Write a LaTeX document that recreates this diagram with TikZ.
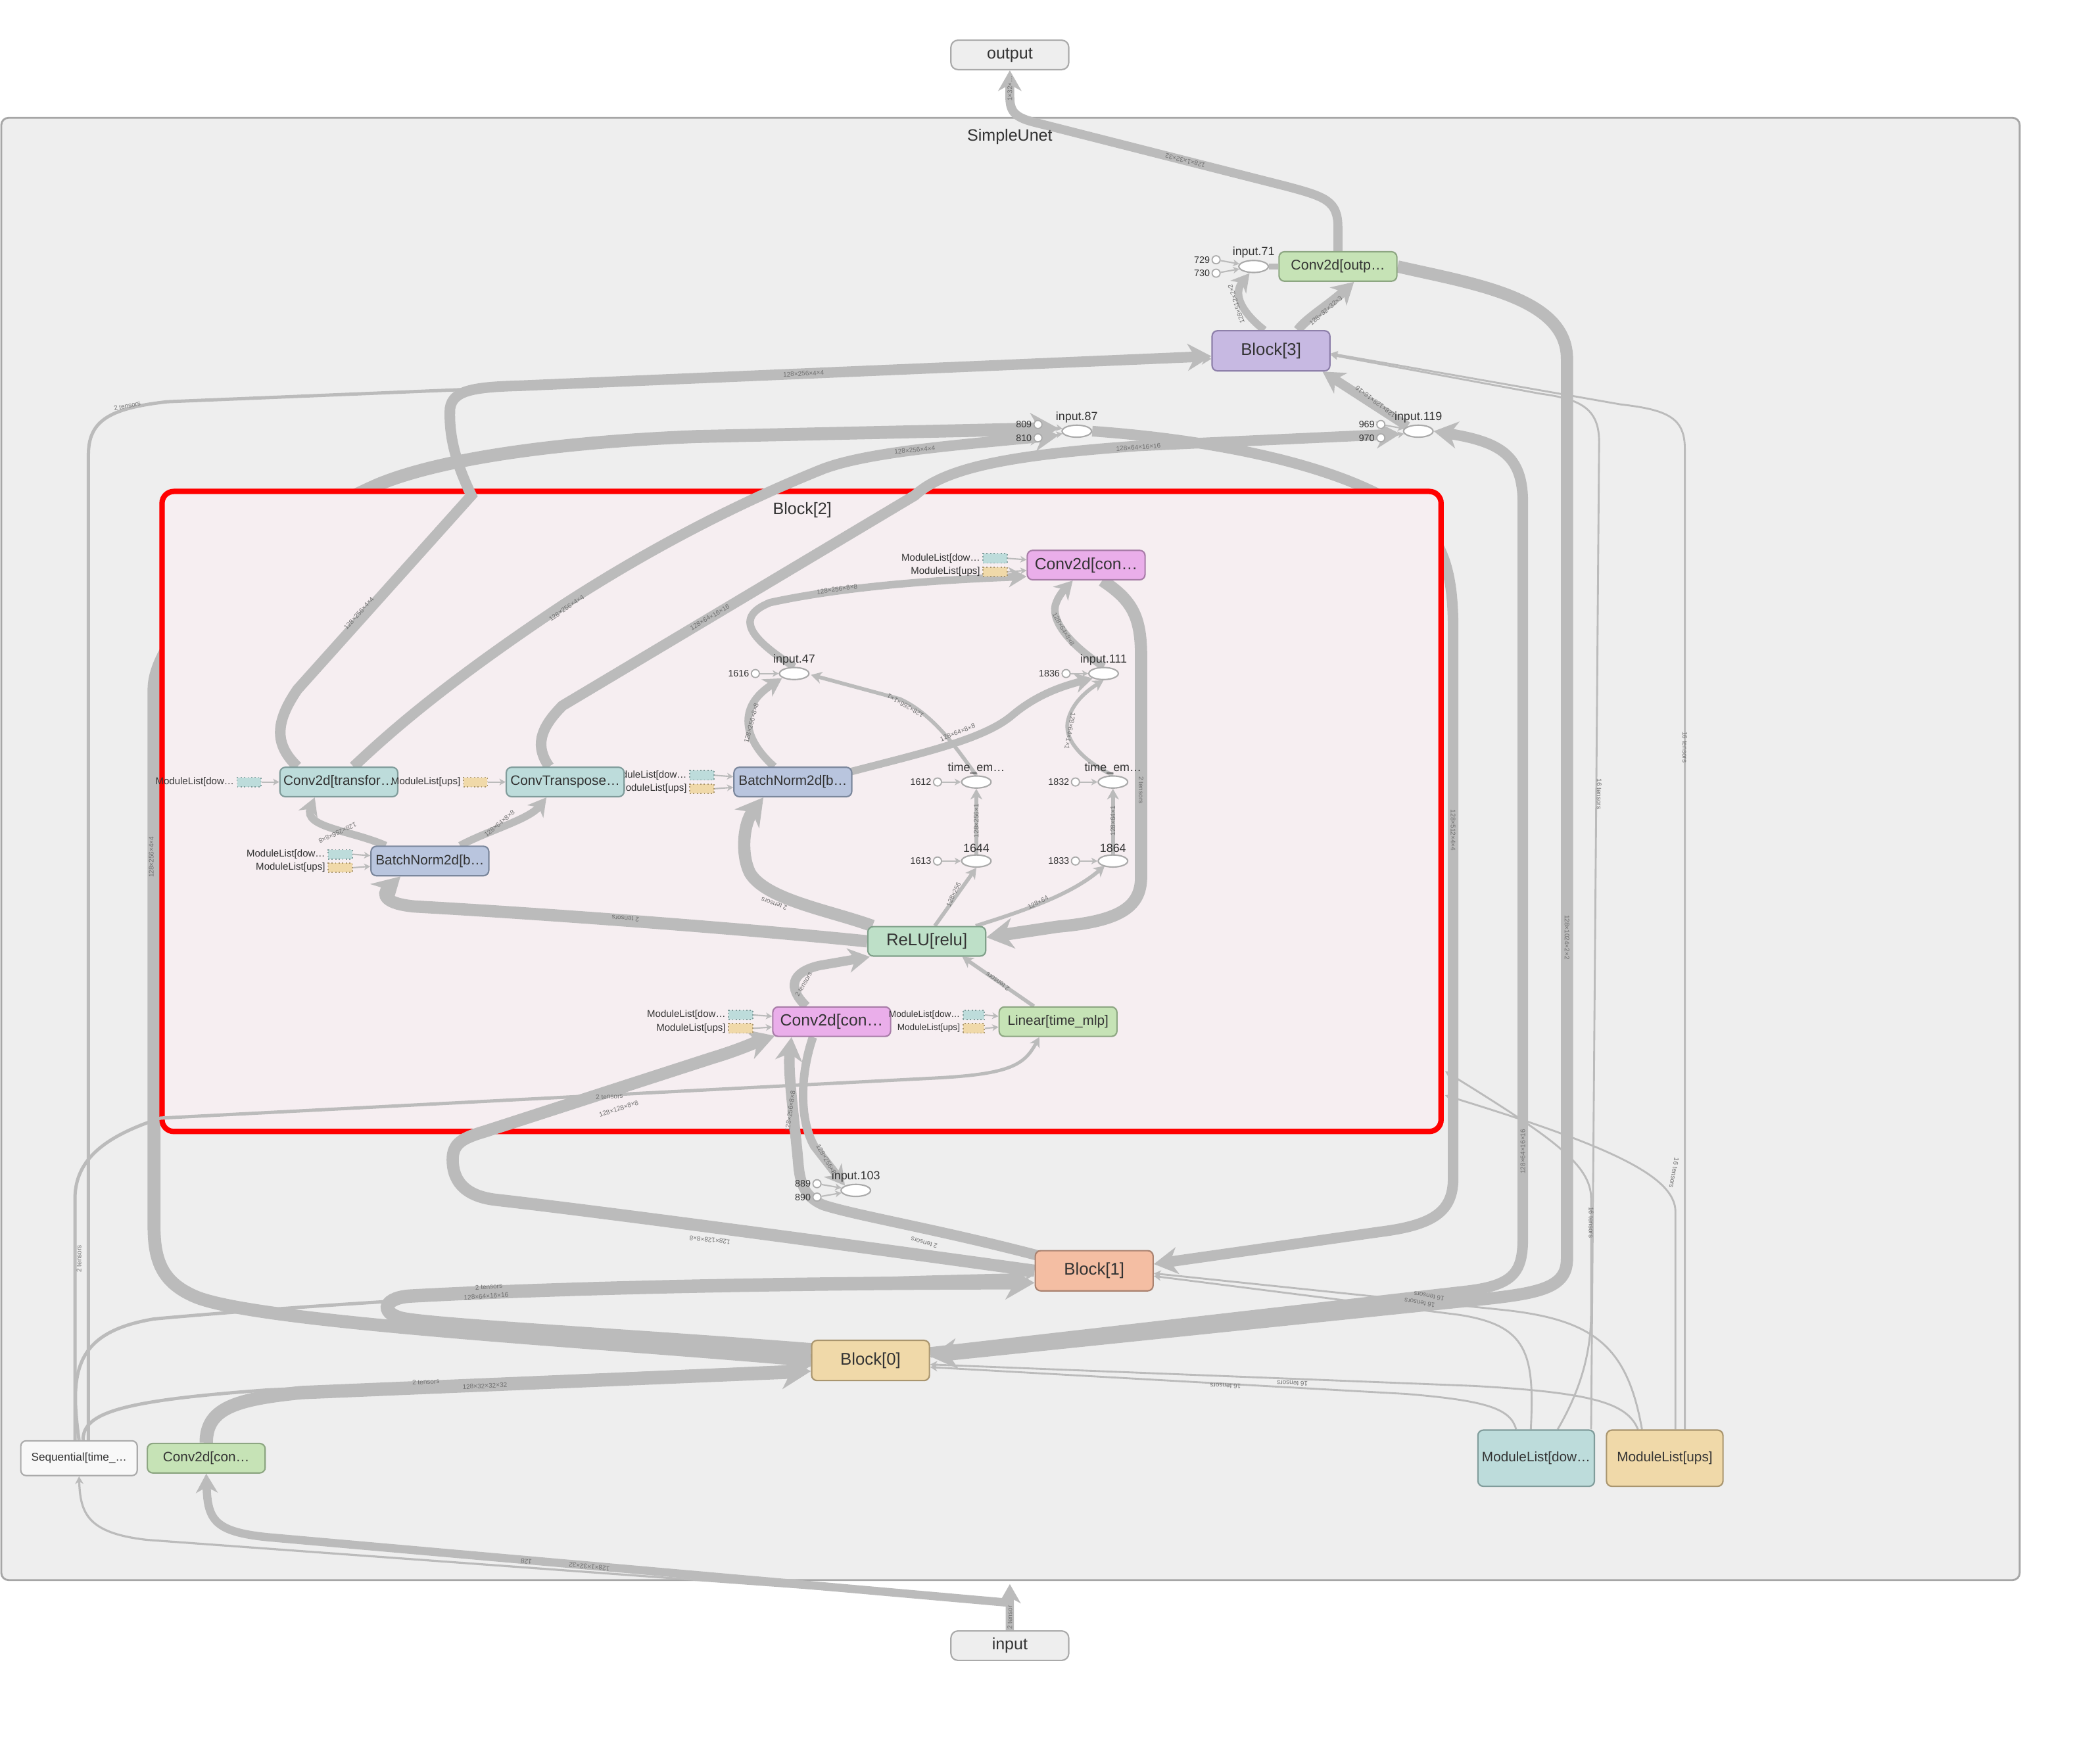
\documentclass[tikz,border=0pt]{standalone}
\usepackage{fontspec}
\setmainfont{Liberation Sans}
\usetikzlibrary{arrows.meta,shapes.geometric,calc}

\pgfdeclarelayer{frame}
\pgfdeclarelayer{under}
\pgfdeclarelayer{box}
\pgfdeclarelayer{edges}
\pgfsetlayers{frame,under,box,edges,main}

\definecolor{groupbg}{HTML}{EEEEEE}
\definecolor{frameline}{HTML}{A6A6A6}
\definecolor{blockpink}{HTML}{F6EEF1}
\definecolor{edgegray}{HTML}{BBBBBB}
\definecolor{txt}{HTML}{333333}
\definecolor{elabgray}{HTML}{707070}
\definecolor{nodeborder}{HTML}{AAAAAA}
\definecolor{purplefill}{HTML}{C7B9E2}
\definecolor{purpleline}{HTML}{8E80AA}
\definecolor{greenfill}{HTML}{C6E3B6}
\definecolor{greenline}{HTML}{8DA682}
\definecolor{pinkfill}{HTML}{EAAEEA}
\definecolor{pinkline}{HTML}{A87CA8}
\definecolor{tealfill}{HTML}{BDDCDB}
\definecolor{tealline}{HTML}{809C9B}
\definecolor{bluefill}{HTML}{B9C5DE}
\definecolor{blueline}{HTML}{7B879C}
\definecolor{mintfill}{HTML}{BEE0C8}
\definecolor{mintline}{HTML}{80A08A}
\definecolor{salmonfill}{HTML}{F4BEA3}
\definecolor{salmonline}{HTML}{A98270}
\definecolor{tanfill}{HTML}{F0D9A9}
\definecolor{tanline}{HTML}{A9956E}

\tikzset{
  op/.style={draw, rounded corners=2.3pt, line width=0.6pt, minimum width=1.76cm,
    minimum height=0.44cm, inner sep=0.5pt, text=txt, font=\fontsize{5.8}{6}\selectfont},
  blk/.style={op, minimum height=0.6cm, font=\fontsize{7.2}{8}\selectfont},
  bigop/.style={op, font=\fontsize{6.9}{7}\selectfont},
  io/.style={op, fill=groupbg, draw=nodeborder, rounded corners=3pt, font=\fontsize{7}{8}\selectfont},
  bigtxt/.style={text=txt, inner sep=0pt, font=\fontsize{7}{8}\selectfont},
  tensor/.style={ellipse, draw=nodeborder, fill=white, line width=0.6pt, minimum width=0.44cm,
    minimum height=0.18cm, inner sep=0pt, label distance=0.3pt},
  const/.style={circle, draw=nodeborder, fill=white, line width=0.5pt, minimum size=0.12cm,
    inner sep=0pt, label distance=0.4pt},
  lab/.style={font=\fontsize{5}{5}\selectfont, text=txt, inner sep=0.5pt},
  clab/.style={font=\fontsize{4}{4}\selectfont, text=txt, inner sep=0.5pt},
  mlab/.style={font=\fontsize{4.2}{4}\selectfont, text=txt, inner sep=0.5pt, anchor=east},
  elab/.style={font=\fontsize{2.8}{3}\selectfont, text=elabgray, inner sep=0pt},
  flow/.style={draw=edgegray, -{Stealth[length=1.5pt 1.9, width=1.5pt 2.2, inset=0.4pt 0.6]}},
  wire/.style={draw=edgegray},
  dotteal/.style={draw=tealline, fill=tealfill, densely dotted, line width=0.5pt,
    minimum width=0.36cm, minimum height=0.14cm, inner sep=0pt},
  dottan/.style={draw=tanline, fill=tanfill, densely dotted, line width=0.5pt,
    minimum width=0.36cm, minimum height=0.14cm, inner sep=0pt},
  fillpurple/.style={fill=purplefill, draw=purpleline},
  fillgreen/.style={fill=greenfill, draw=greenline},
  fillpink/.style={fill=pinkfill, draw=pinkline},
  fillteal/.style={fill=tealfill, draw=tealline},
  fillblue/.style={fill=bluefill, draw=blueline},
  fillmint/.style={fill=mintfill, draw=mintline},
  fillsalmon/.style={fill=salmonfill, draw=salmonline},
  filltan/.style={fill=tanfill, draw=tanline},
}

\begin{document}
\begin{tikzpicture}[x=0.02cm, y=-0.02cm]

% frames
\begin{pgfonlayer}{frame}
  \fill[white] (0,0) rectangle (1568,1299);
  \draw[draw=frameline, fill=groupbg, line width=0.8pt, rounded corners=3pt] (1,88) rectangle (1508,1180);
\end{pgfonlayer}
\useasboundingbox (0,0) rectangle (1568,1299);
\begin{pgfonlayer}{box}
  \draw[draw=red, fill=blockpink, line width=2.3pt, rounded corners=5pt] (121,367) rectangle (1076,845);
\end{pgfonlayer}
\coordinate (b2r1) at (1079,800);
\coordinate (b2r2) at (1079,818);

% group titles and graph ends
\node[bigtxt] (simpleunet) at (754,102) {SimpleUnet};
\node[bigtxt] (block2) at (599,381) {Block[2]};
\node[io] (output) at (754,41) {output};
\node[io] (input) at (754,1229) {input};

% top of SimpleUnet
\node[op, fillgreen, font=\fontsize{6}{6}\selectfont] (co) at (999,199) {Conv2d[outp…};
\node[tensor, label={[lab]above:input.71}] (i71) at (936,199) {};
\node[const, label={[clab]left:729}] (c729) at (908,194) {};
\node[const, label={[clab]left:730}] (c730) at (908,204) {};
\node[blk, fillpurple] (b3) at (949,262) {Block[3]};
\node[tensor, label={[lab]above:input.87}] (i87) at (804,322) {};
\node[const, label={[clab]left:809}] (c809) at (775,317) {};
\node[const, label={[clab]left:810}] (c810) at (775,327) {};
\node[tensor, label={[lab]above:input.119}] (i119) at (1059,322) {};
\node[const, label={[clab]left:969}] (c969) at (1031,317) {};
\node[const, label={[clab]left:970}] (c970) at (1031,327) {};

% inside Block[2]
\node[mlab] at (733,417) {ModuleList[dow…};
\node[mlab] at (733,427) {ModuleList[ups]};
\node[dotteal] (dcu1) at (743,417) {};
\node[dottan] (dcu2) at (743,427) {};
\node[bigop, fillpink] (cu) at (811,422) {Conv2d[con…};

\node[tensor, label={[lab]above:input.47}] (i47) at (593,503) {};
\node[const, label={[clab]left:1616}] (c1616) at (564,503) {};
\node[tensor, label={[lab]above:input.111}] (i111) at (824,503) {};
\node[const, label={[clab]left:1836}] (c1836) at (796,503) {};
\node[tensor, label={[lab]above:time\_em…}] (te1) at (729,584) {};
\node[const, label={[clab]left:1612}] (c1612) at (700,584) {};
\node[tensor, label={[lab]above:time\_em…}] (te2) at (831,584) {};
\node[const, label={[clab]left:1832}] (c1832) at (803,584) {};
\node[tensor, label={[lab]above:1644}] (n1644) at (729,643) {};
\node[const, label={[clab]left:1613}] (c1613) at (700,643) {};
\node[tensor, label={[lab]above:1864}] (n1864) at (831,643) {};
\node[const, label={[clab]left:1833}] (c1833) at (803,643) {};

\node[mlab] at (514,579) {ModuleList[dow…};
\node[mlab] at (514,589) {ModuleList[ups]};
\node[dotteal] (dbn1a) at (524,579) {};
\node[dottan] (dbn1b) at (524,589) {};
\node[mlab] at (176,584) {ModuleList[dow…};
\node[dotteal] (dct) at (186,584) {};
\node[op, fillteal] (ct) at (253,584) {Conv2d[transfor…};
\node[mlab] at (345,584) {ModuleList[ups]};
\node[dottan] (dtr) at (355,584) {};
\node[op, fillteal] (tr) at (422,584) {ConvTranspose…};
\node[op, fillblue] (bn1) at (592,584) {BatchNorm2d[b…};

\node[mlab] at (244,638) {ModuleList[dow…};
\node[mlab] at (244,648) {ModuleList[ups]};
\node[dotteal] (dbn2a) at (254,638) {};
\node[dottan] (dbn2b) at (254,648) {};
\node[op, fillblue] (bn2) at (321,643) {BatchNorm2d[b…};

\node[op, fillmint, font=\fontsize{7.2}{8}\selectfont] (relu) at (692,703) {ReLU[relu]};

\node[mlab] at (543,758) {ModuleList[dow…};
\node[mlab] at (543,768) {ModuleList[ups]};
\node[dotteal] (dcla) at (553,758) {};
\node[dottan] (dclb) at (553,768) {};
\node[bigop, fillpink] (cl) at (621,763) {Conv2d[con…};
\node[mlab, font=\fontsize{3.8}{4}\selectfont] at (718,758) {ModuleList[dow…};
\node[mlab, font=\fontsize{3.8}{4}\selectfont] at (718,768) {ModuleList[ups]};
\node[dotteal, minimum width=0.32cm] (dlina) at (727,758) {};
\node[dottan, minimum width=0.32cm] (dlinb) at (727,768) {};
\node[op, fillgreen] (lin) at (790,763) {Linear[time\_mlp]};

% lower part
\node[tensor, label={[lab]above:input.103}] (i103) at (639,889) {};
\node[const, label={[clab]left:889}] (c889) at (610,884) {};
\node[const, label={[clab]left:890}] (c890) at (610,894) {};
\node[blk, fillsalmon] (b1) at (817,949) {Block[1]};
\node[blk, filltan] (b0) at (650,1016) {Block[0]};
\node[op, fill=white!60!groupbg, draw=nodeborder, minimum width=1.74cm, minimum height=0.52cm,
  font=\fontsize{4.8}{5}\selectfont] (seq) at (59,1089) {Sequential[time\_…};
\node[op, fillgreen] (cin) at (154,1089) {Conv2d[con…};
\node[op, fillteal, minimum width=1.74cm, minimum height=0.84cm] (mld) at (1147,1089) {ModuleList[dow…};
\node[op, filltan, minimum width=1.74cm, minimum height=0.84cm] (mlu) at (1243,1089) {ModuleList[ups]};

% edges hidden by Block[2]
\begin{pgfonlayer}{under}
  \draw[flow, line width=5.5pt] (b0.west) .. controls (450,1002) and (190,988) .. (145,968)
    .. controls (120,957) and (115,940) .. (115,915) -- (115,515)
    .. controls (115,470) and (200,398) .. (282,362)
    .. controls (330,342) and (420,330) .. (520,326) -- ($(i87.west)+(-2,-2)$);
  \draw[flow, line width=4.5pt] (i87.east) .. controls (900,328) and (990,345) .. (1040,375)
    .. controls (1075,395) and (1085,420) .. (1085,470) -- (1085,880)
    .. controls (1085,905) and (1070,915) .. (1030,920) -- ($(b1.east)+(0,-5)$);
\end{pgfonlayer}

\begin{pgfonlayer}{edges}
  % output side
  \draw[flow, line width=3.8pt] (co.north) -- (999,170) .. controls (999,150) and (990,147) .. (960,139)
    -- (775,92) .. controls (758,88) and (754,84) .. (754,72) -- (output.south);
  \draw[flow, line width=4pt] ($(b3.north)+(20,0)$) .. controls (975,238) and (992,228) .. ($(co.south)+(12,0)$);
  \draw[flow, line width=3.2pt] ($(b3.north)+(-5,0)$) .. controls (928,234) and (920,220) .. ($(i71.south)+(-3,0)$);
  \draw[flow, line width=0.6pt] (c729) -- (i71);
  \draw[flow, line width=0.6pt] (c730) -- (i71);
  \draw[wire, line width=2.5pt] (i71.east) -- (co.west);
  \draw[flow, line width=5.2pt] (co.east) .. controls (1100,212) and (1170,222) .. (1170,268) -- (1170,940)
    .. controls (1170,962) and (1150,966) .. (1100,971) -- ($(b0.east)+(0,-3)$);
  \draw[flow, line width=4.5pt] ($(b0.east)+(0,-6)$) -- (1095,964) .. controls (1130,960) and (1137,950) .. (1137,925)
    -- (1137,375) .. controls (1137,340) and (1120,330) .. (i119.east);
  \draw[flow, line width=4pt] (i119.north west) .. controls (1030,305) and (1010,292) .. ($(b3.south east)+(-6,0)$);
  \draw[flow, line width=0.6pt] (c809) -- (i87);
  \draw[flow, line width=0.6pt] (c810) -- (i87);
  \draw[flow, line width=0.6pt] (c969) -- (i119);
  \draw[flow, line width=0.6pt] (c970) -- (i119);

  % Block[2] to the skip inputs and Block[3]
  \draw[flow, line width=4.5pt] ($(ct.north)+(-31,0)$) .. controls (205,556) and (205,540) .. (222,515) -- (352,370)
    .. controls (340,345) and (335,325) .. (336,305) .. controls (338,291) and (355,289) .. (390,288)
    -- ($(b3.west)+(0,4)$);
  \draw[flow, line width=4.5pt] ($(ct.north)+(11,0)$) .. controls (290,548) and (330,512) .. (420,452)
    .. controls (500,400) and (570,368) .. (615,350) .. controls (650,337) and (720,332) .. ($(i87.west)+(-2,3)$);
  \draw[flow, line width=4.5pt] ($(tr.north)+(-12,0)$) .. controls (400,558) and (402,545) .. (420,527) -- (683,370)
    .. controls (705,350) and (750,340) .. (850,333) -- ($(i119.west)+(-2,2)$);

  % inside Block[2]
  \draw[flow, line width=3.2pt] ($(bn1.north)+(-14,0)$) .. controls (555,552) and (550,528) .. ($(i47.south west)+(-1,0)$);
  \draw[flow, line width=3.2pt] (i47.north) .. controls (565,480) and (545,462) .. (575,450)
    .. controls (630,438) and (700,433) .. ($(cu.south west)+(0,-3)$);
  \draw[flow, line width=1.6pt] (te1.north) .. controls (718,565) and (700,535) .. (672,522) -- ($(i47.east)+(1,1)$);
  \draw[flow, line width=3.2pt] ($(bn1.north east)+(-2,4)$) .. controls (690,562) and (735,552) .. (756,534)
    .. controls (775,518) and (795,512) .. (i111.south west);
  \draw[flow, line width=1.6pt] (n1644.north) -- (te1.south);
  \draw[flow, line width=1.6pt] (n1864.north) -- (te2.south);
  \draw[flow, line width=1.6pt] (te2.north) .. controls (812,570) and (795,555) .. (797,540)
    .. controls (799,528) and (808,518) .. (i111.south);
  \draw[flow, line width=3.2pt] (i111.north) .. controls (800,482) and (785,465) .. (788,452)
    .. controls (790,445) and (795,440) .. ($(cu.south)+(-10,0)$);
  \draw[flow, line width=5.2pt] ($(cu.south)+(12,0)$) .. controls (845,448) and (852,460) .. (852,490) -- (852,655)
    .. controls (852,678) and (835,688) .. (790,692) -- ($(relu.east)+(0,-3)$);
  \draw[flow, line width=1.6pt] ($(relu.north)+(6,0)$) -- (n1644.south);
  \draw[flow, line width=1.6pt] ($(relu.north east)+(-8,0)$) .. controls (765,680) and (800,668) .. ($(n1864.south west)+(2,0)$);
  \draw[flow, line width=5.2pt] (relu.west) .. controls (550,693) and (400,682) .. (310,677)
    .. controls (287,675) and (285,668) .. ($(bn2.south)+(-22,0)$);
  \draw[flow, line width=5.2pt] ($(relu.north west)+(4,0)$) .. controls (620,680) and (572,672) .. (560,652)
    .. controls (553,638) and (555,615) .. ($(bn1.south)+(-22,0)$);
  \draw[flow, line width=3.2pt] ($(bn2.north)+(-33,0)$) .. controls (262,620) and (226,618) .. ($(ct.south)+(-18,0)$);
  \draw[flow, line width=3.2pt] ($(bn2.north east)+(-22,0)$) .. controls (365,620) and (395,612) .. ($(tr.south)+(-14,0)$);
  \draw[flow, line width=4pt] ($(cl.north)+(-19,0)$) .. controls (588,738) and (590,726) .. (612,721) -- ($(relu.south west)+(2,0)$);
  \draw[flow, line width=1.6pt] ($(lin.north)+(-18,0)$) -- ($(relu.south east)+(-18,0)$);
  \foreach \d/\n in {c1616/i47, c1836/i111, c1612/te1, c1832/te2, c1613/n1644, c1833/n1864, c889/i103, c890/i103}
    \draw[flow, line width=0.6pt] (\d) -- (\n);

  % ModuleList inputs of the inner layers
  \draw[flow, line width=0.6pt] (dcu1.east) -- ($(cu.west)+(0,-4)$);
  \draw[flow, line width=0.6pt] (dcu2.east) -- ($(cu.west)+(0,4)$);
  \draw[flow, line width=0.6pt] (dct.east) -- (ct.west);
  \draw[flow, line width=0.6pt] (dtr.east) -- (tr.west);
  \draw[flow, line width=0.6pt] (dbn1a.east) -- ($(bn1.west)+(0,-4)$);
  \draw[flow, line width=0.6pt] (dbn1b.east) -- ($(bn1.west)+(0,4)$);
  \draw[flow, line width=0.6pt] (dbn2a.east) -- ($(bn2.west)+(0,-4)$);
  \draw[flow, line width=0.6pt] (dbn2b.east) -- ($(bn2.west)+(0,4)$);
  \draw[flow, line width=0.6pt] (dcla.east) -- ($(cl.west)+(0,-4)$);
  \draw[flow, line width=0.6pt] (dclb.east) -- ($(cl.west)+(0,4)$);
  \draw[flow, line width=0.6pt] (dlina.east) -- ($(lin.west)+(0,-4)$);
  \draw[flow, line width=0.6pt] (dlinb.east) -- ($(lin.west)+(0,4)$);

  % time embedding into Linear
  \draw[flow, line width=1.4pt] ($(seq.north)+(-3,0)$) -- (56,895) .. controls (56,865) and (80,848) .. (120,835)
    -- (700,805) .. controls (755,802) and (765,795) .. ($(lin.south)+(-14,0)$);

  % Block[1] and input.103
  \draw[flow, line width=5.2pt] (b1.west) .. controls (650,932) and (450,905) .. (370,896)
    .. controls (345,893) and (338,880) .. (338,866) .. controls (338,854) and (345,850) .. (362,845)
    -- (532,790) .. controls (552,784) and (565,778) .. ($(cl.south west)+(2,-1)$);
  \draw[flow, line width=3.6pt] ($(cl.south)+(-14,0)$) .. controls (598,800) and (596,835) .. (608,856) -- (i103.north west);
  \draw[flow, line width=4.5pt] ($(b1.north west)+(2,4)$) .. controls (700,918) and (640,908) .. (615,900)
    .. controls (600,894) and (597,882) .. (596,868) .. controls (593,835) and (588,800) .. ($(cl.south)+(-30,0)$);

  % Block[0] out and in
  \draw[flow, line width=5.7pt] ($(b0.west)+(0,-8)$) .. controls (480,998) and (330,990) .. (302,985)
    .. controls (285,982) and (284,970) .. (305,968) .. controls (450,960) and (650,958) .. ($(b1.west)+(0,9)$);
  \draw[flow, line width=5.7pt] (cin.north) .. controls (154,1052) and (175,1045) .. (225,1040) -- ($(b0.west)+(0,8)$);
  \draw[flow, line width=1.4pt] ($(seq.north)+(3,0)$) .. controls (62,1055) and (90,1046) .. (200,1038) -- ($(b0.west)+(0,4)$);
  \draw[flow, line width=1.4pt] (seq.north) .. controls (52,1025) and (55,995) .. (115,985)
    .. controls (300,968) and (600,955) .. ($(b1.west)+(0,3)$);
  \draw[flow, line width=1.4pt] ($(seq.north)+(7,0)$) -- (66,340) .. controls (66,315) and (80,305) .. (125,300)
    -- ($(b3.west)+(0,6)$);

  % graph input
  \draw[flow, line width=3.5pt] (input.north) -- (754,1183);
  \draw[flow, line width=3.5pt] (input.north) -- (754,1197) -- (200,1148) .. controls (160,1144) and (155,1135) .. (cin.south);
  \draw[flow, line width=0.9pt] (input.north) -- (754,1197) -- (110,1150) .. controls (65,1145) and (60,1130) .. (seq.south);

  % ModuleList fan-out
  \draw[flow, line width=0.8pt] ($(mld.north)+(-15,0)$) .. controls (1128,1052) and (1110,1046) .. (1050,1041) -- ($(b0.east)+(0,5)$);
  \draw[flow, line width=0.8pt] ($(mlu.north)+(-20,0)$) .. controls (1215,1048) and (1190,1040) .. (1100,1035) -- ($(b0.east)+(0,3)$);
  \draw[flow, line width=0.8pt] ($(mld.north)+(-4,0)$) .. controls (1146,1010) and (1140,990) .. (1090,982) -- ($(b1.east)+(0,4)$);
  \draw[flow, line width=0.8pt] ($(mlu.north)+(-17,0)$) .. controls (1215,1005) and (1190,985) .. (1120,978) -- ($(b1.east)+(0,2)$);
  \draw[flow, line width=0.8pt] ($(mld.north)+(16,0)$) .. controls (1185,1030) and (1188,1000) .. (1188,980) -- (1188,895)
    .. controls (1188,870) and (1160,850) .. (b2r1);
  \draw[flow, line width=0.8pt] ($(mlu.north)+(8,0)$) -- (1251,905) .. controls (1251,878) and (1200,855) .. (b2r2);
  \draw[flow, line width=0.8pt] ($(mld.north east)+(-3,0)$) -- (1194,330) .. controls (1194,305) and (1180,298) .. (1150,294)
    -- ($(b3.east)+(0,3)$);
  \draw[flow, line width=0.8pt] ($(mlu.north)+(15,0)$) -- (1258,335) .. controls (1258,312) and (1245,306) .. (1210,302)
    -- ($(b3.east)+(0,2)$);
\end{pgfonlayer}

% edge labels
\node[elab, rotate=166] at (885,120) {128×1×32×32};
\node[elab, rotate=90] at (754,66) {1×32×…};
\node[elab, rotate=41] at (990,232) {128×32×32×3};
\node[elab, rotate=108] at (923,227) {128×512×2×2};
\node[elab, rotate=-90] at (1170,700) {128×1024×2×2};
\node[elab, rotate=90] at (1137,860) {128×64×16×16};
\node[elab, rotate=-90] at (1085,620) {128×512×4×4};
\node[elab, rotate=143] at (1027,300) {128×128×16×16};
\node[elab, rotate=48] at (268,458) {128×256×4×4};
\node[elab, rotate=3] at (600,279) {128×256×4×4};
\node[elab, rotate=35] at (423,454) {128×256×4×4};
\node[elab, rotate=5] at (683,336) {128×256×4×4};
\node[elab, rotate=31] at (530,461) {128×64×16×16};
\node[elab, rotate=4] at (850,334) {128×64×16×16};
\node[elab, rotate=90] at (113,640) {128×256×4×4};
\node[elab, rotate=75] at (561,540) {128×256×8×8};
\node[elab, rotate=8] at (625,440) {128×256×8×8};
\node[elab, rotate=150] at (676,527) {128×256×1×1};
\node[elab, rotate=22] at (715,547) {128×64×8×8};
\node[elab, rotate=90] at (729,613) {128×256×1};
\node[elab, rotate=90] at (831,613) {128×64×1};
\node[elab, rotate=-100] at (799,546) {128×64×1×1};
\node[elab, rotate=-60] at (794,470) {128×64×8×8};
\node[elab, rotate=-90] at (852,590) {2 tensors};
\node[elab, rotate=65] at (712,668) {128×256};
\node[elab, rotate=28] at (775,674) {128×64};
\node[elab, rotate=176] at (467,686) {2 tensors};
\node[elab, rotate=160] at (578,675) {2 tensors};
\node[elab, rotate=-155] at (252,622) {128×256×8×8};
\node[elab, rotate=40] at (373,615) {128×64×8×8};
\node[elab, rotate=60] at (600,735) {2 tensors};
\node[elab, rotate=145] at (745,733) {2 tensors};
\node[elab, rotate=3] at (455,819) {2 tensors};
\node[elab, rotate=18] at (462,828) {128×128×8×8};
\node[elab, rotate=174] at (530,926) {128×128×8×8};
\node[elab, rotate=82] at (590,830) {128×256×8×8};
\node[elab, rotate=-60] at (617,866) {128×256×8};
\node[elab, rotate=165] at (690,928) {2 tensors};
\node[elab, rotate=4] at (365,961) {2 tensors};
\node[elab, rotate=4] at (363,968) {128×64×16×16};
\node[elab, rotate=3] at (318,1032) {2 tensors};
\node[elab, rotate=3] at (362,1035) {128×32×32×32};
\node[elab, rotate=12] at (95,303) {2 tensors};
\node[elab, rotate=90] at (59,940) {2 tensors};
\node[elab, rotate=174] at (440,1170) {128×1×32×32};
\node[elab, rotate=174] at (393,1166) {128};
\node[elab, rotate=90] at (754,1208) {2 tensor};
\node[elab, rotate=178] at (915,1035) {16 tensors};
\node[elab, rotate=178] at (965,1033) {16 tensors};
\node[elab, rotate=170] at (1060,973) {16 tensors};
\node[elab, rotate=170] at (1067,968) {16 tensors};
\node[elab, rotate=-90] at (1188,913) {16 tensors};
\node[elab, rotate=-100] at (1250,876) {16 tensors};
\node[elab, rotate=-90] at (1194,593) {16 tensors};
\node[elab, rotate=-90] at (1258,558) {16 tensors};

\end{tikzpicture}
\end{document}
